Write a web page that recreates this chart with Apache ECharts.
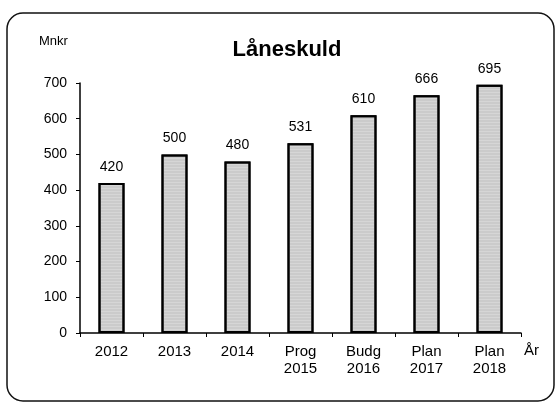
<!DOCTYPE html>
<html><head><meta charset="utf-8">
<script src="https://cdn.jsdelivr.net/npm/echarts@6/dist/echarts.min.js"></script>
<style>html,body{margin:0;padding:0;background:#fff}#c{width:556px;height:403px}</style>
</head><body><div id="c"></div>
<script>
var categories = ['2012', '2013', '2014', 'Prog\n2015', 'Budg\n2016', 'Plan\n2017', 'Plan\n2018'];
var values = [420, 500, 480, 531, 610, 666, 695];
var yTicks = [0, 100, 200, 300, 400, 500, 600, 700];
var titleText = 'Låneskuld';
var unitText = 'Mnkr';
var xName = 'År';

var chart = echarts.init(document.getElementById('c'), null, {renderer: 'canvas'});
var font = 'Liberation Sans, Arial, sans-serif';
chart.setOption({
  animation: false,
  backgroundColor: '#fff',
  title: {text: titleText, left: 282, top: 34, textAlign: 'center',
    textStyle: {fontFamily: font, fontSize: 22, fontWeight: 'bold', color: '#000'}},
  graphic: [
    {type: 'rect', shape: {x: 7, y: 13, width: 547, height: 388, r: 16},
     style: {fill: 'none', stroke: '#111', lineWidth: 1.5}, z: -1},
    {type: 'text', left: 39, top: 35, style: {text: unitText, font: '13px ' + font, fill: '#000'}}
  ],
  grid: {left: 80, right: 35, top: 83, bottom: 70, containLabel: false},
  xAxis: {
    type: 'category', data: categories,
    name: xName, nameLocation: 'end', nameGap: 3,
    nameTextStyle: {fontFamily: font, fontSize: 15, color: '#000', verticalAlign: 'top', padding: [10, 0, 0, 0]},
    axisLine: {lineStyle: {color: '#000', width: 1.5}},
    axisTick: {show: true, length: 4, lineStyle: {color: '#000'}},
    axisLabel: {fontFamily: font, fontSize: 15, color: '#000', margin: 10, lineHeight: 17}
  },
  yAxis: {
    type: 'value', min: 0, max: 700, interval: 100,
    axisLine: {show: true, lineStyle: {color: '#000', width: 1.5}},
    axisTick: {show: true, length: 4, lineStyle: {color: '#000'}},
    splitLine: {show: false},
    axisLabel: {fontFamily: font, fontSize: 14, color: '#000', margin: 13,
      formatter: function (v) { return yTicks.indexOf(v) >= 0 ? String(v) : ''; }}
  },
  series: [{
    type: 'bar', data: values, barWidth: 26,
    itemStyle: {color: '#d6d6d6', borderColor: '#000', borderWidth: 2,
      decal: {symbol: 'rect', symbolSize: 0.5, dashArrayX: [1, 0], dashArrayY: [2, 1], color: 'rgba(90,90,90,0.35)'}},
    label: {show: true, position: 'top', distance: 9, fontFamily: font, fontSize: 14, color: '#000'}
  }]
});
</script></body></html>
